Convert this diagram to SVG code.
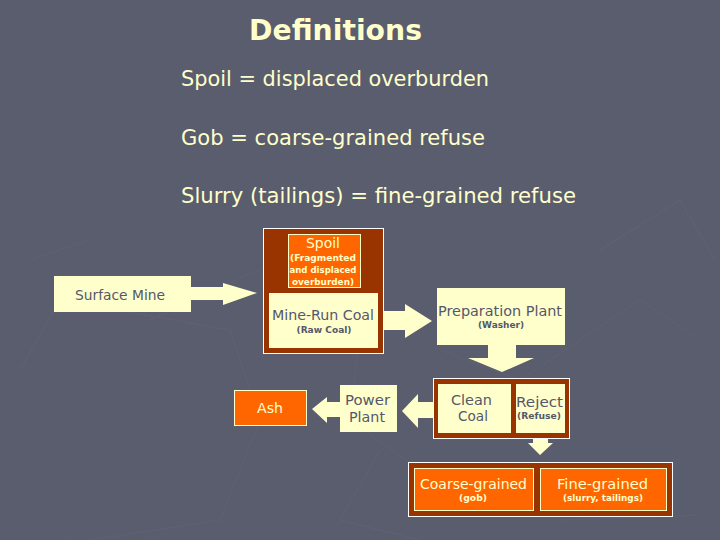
<svg xmlns="http://www.w3.org/2000/svg" width="720" height="540" viewBox="0 0 720 540">
<style>
.bg{fill:#5a5d6d}
.head{font-family:"DejaVu Sans Condensed","DejaVu Sans",sans-serif;fill:#ffffcc}
.t{font-family:"DejaVu Sans","DejaVu Sans Condensed",sans-serif;font-size:14px;text-anchor:middle}
.s{font-family:"DejaVu Sans Condensed","DejaVu Sans",sans-serif;font-size:9.5px;font-weight:bold;text-anchor:middle}
.cream{fill:#ffffcc}
.dark{fill:#55586a}
.brown{fill:#993300;stroke:#ffffff;stroke-width:1}
.orange{fill:#ff6600;stroke:#ffffcc;stroke-width:1}
.box{fill:#ffffcc}
.arrow{fill:#ffffcc}
.wm{fill:none;stroke:#61647777;stroke-width:1.5}
</style>
<rect class="bg" x="0" y="0" width="720" height="540"/>
<g id="watermark">
<circle class="wm" cx="110" cy="420" r="125" stroke-width="6" stroke-dasharray="1.5 2.5"/>
<path class="wm" d="M20 370 L60 300 L230 330 L260 420 L220 520 L90 540 M150 320 L280 260 L360 330 L350 420 L420 470 M440 350 L520 380 L640 300 L700 340 M600 250 L680 200 L715 260 M30 260 L90 240 M380 450 L340 520 L420 540 M560 520 L700 515"/>
</g>
<g id="title">
<text class="head" x="249" y="40" font-size="29" font-weight="bold" textLength="173" lengthAdjust="spacingAndGlyphs">Definitions</text>
<text class="head" x="181" y="86" font-size="21" textLength="308" lengthAdjust="spacingAndGlyphs">Spoil = displaced overburden</text>
<text class="head" x="181" y="145" font-size="21" textLength="304" lengthAdjust="spacingAndGlyphs">Gob = coarse-grained refuse</text>
<text class="head" x="181" y="203" font-size="21" textLength="395" lengthAdjust="spacingAndGlyphs">Slurry (tailings) = fine-grained refuse</text>
</g>
<g id="connectors">
<polygon class="arrow" points="191,287 223,287 223,283 257,293 223,305 223,300 191,300"/>
<polygon class="arrow" points="384,311 405,311 405,304 432,321 405,338 405,330 384,330"/>
<polygon class="arrow" points="488,345 516,345 516,358 534,358 502,372 468,358 488,358"/>
<polygon class="arrow" points="438,402 418,402 418,394 402,411 418,428 418,418 438,418"/>
<polygon class="arrow" points="340,402 327,402 327,397 312,409 327,423 327,417 340,417"/>
<polygon class="arrow" points="533,433 548,433 548,443 553,443 540,455 528,443 533,443"/>
</g>
<g id="surface-mine">
<rect class="box" x="54" y="276" width="137" height="36"/>
<text class="t dark" x="120" y="300" font-size="13" textLength="90" lengthAdjust="spacingAndGlyphs">Surface Mine</text>
</g>
<g id="mine-container">
<rect class="brown" x="263.5" y="228.5" width="120" height="125"/>
</g>
<g id="spoil">
<rect class="orange" x="288.5" y="234.5" width="72" height="53"/>
<text class="t cream" x="323" y="248" textLength="34" lengthAdjust="spacingAndGlyphs">Spoil</text>
<text class="s cream" x="323" y="261" textLength="66" lengthAdjust="spacingAndGlyphs">(Fragmented</text>
<text class="s cream" x="323" y="273" textLength="67" lengthAdjust="spacingAndGlyphs">and displaced</text>
<text class="s cream" x="323" y="285" textLength="62" lengthAdjust="spacingAndGlyphs">overburden)</text>
</g>
<g id="mine-run-coal">
<rect class="box" x="269" y="293" width="109" height="55"/>
<text class="t dark" x="323" y="320" textLength="102" lengthAdjust="spacingAndGlyphs">Mine-Run Coal</text>
<text class="s dark" x="324" y="333" textLength="55" lengthAdjust="spacingAndGlyphs">(Raw Coal)</text>
</g>
<g id="preparation-plant">
<rect class="box" x="437" y="288" width="128" height="57"/>
<text class="t dark" x="500" y="316" textLength="124" lengthAdjust="spacingAndGlyphs">Preparation Plant</text>
<text class="s dark" x="501" y="328" textLength="46" lengthAdjust="spacingAndGlyphs">(Washer)</text>
</g>
<g id="product-container">
<rect class="brown" x="433.5" y="378.5" width="136" height="60"/>
</g>
<g id="clean-coal">
<rect class="box" x="438" y="384" width="73" height="49"/>
<text class="t dark" x="471.5" y="405" textLength="41" lengthAdjust="spacingAndGlyphs">Clean</text>
<text class="t dark" x="473" y="421" textLength="30" lengthAdjust="spacingAndGlyphs">Coal</text>
</g>
<g id="reject">
<rect class="box" x="516" y="384" width="49" height="49"/>
<text class="t dark" x="539.5" y="407" textLength="47" lengthAdjust="spacingAndGlyphs">Reject</text>
<text class="s dark" x="539" y="419" textLength="44" lengthAdjust="spacingAndGlyphs">(Refuse)</text>
</g>
<g id="power-plant">
<rect class="box" x="340" y="385" width="57" height="47"/>
<text class="t dark" x="367.5" y="405" textLength="45" lengthAdjust="spacingAndGlyphs">Power</text>
<text class="t dark" x="367" y="422" textLength="36" lengthAdjust="spacingAndGlyphs">Plant</text>
</g>
<g id="ash">
<rect class="orange" x="234.5" y="390.5" width="72" height="35"/>
<text class="t cream" x="270" y="413" textLength="26" lengthAdjust="spacingAndGlyphs">Ash</text>
</g>
<g id="refuse-container">
<rect class="brown" x="408.5" y="462.5" width="264" height="54"/>
</g>
<g id="coarse-grained">
<rect class="orange" x="414.5" y="468.5" width="119" height="42"/>
<text class="t cream" x="473.5" y="489" textLength="107" lengthAdjust="spacingAndGlyphs">Coarse-grained</text>
<text class="s cream" x="473" y="501" textLength="28" lengthAdjust="spacingAndGlyphs">(gob)</text>
</g>
<g id="fine-grained">
<rect class="orange" x="540.5" y="468.5" width="126" height="42"/>
<text class="t cream" x="602.5" y="489" textLength="91" lengthAdjust="spacingAndGlyphs">Fine-grained</text>
<text class="s cream" x="603" y="501" textLength="80" lengthAdjust="spacingAndGlyphs">(slurry, tailings)</text>
</g>
</svg>
